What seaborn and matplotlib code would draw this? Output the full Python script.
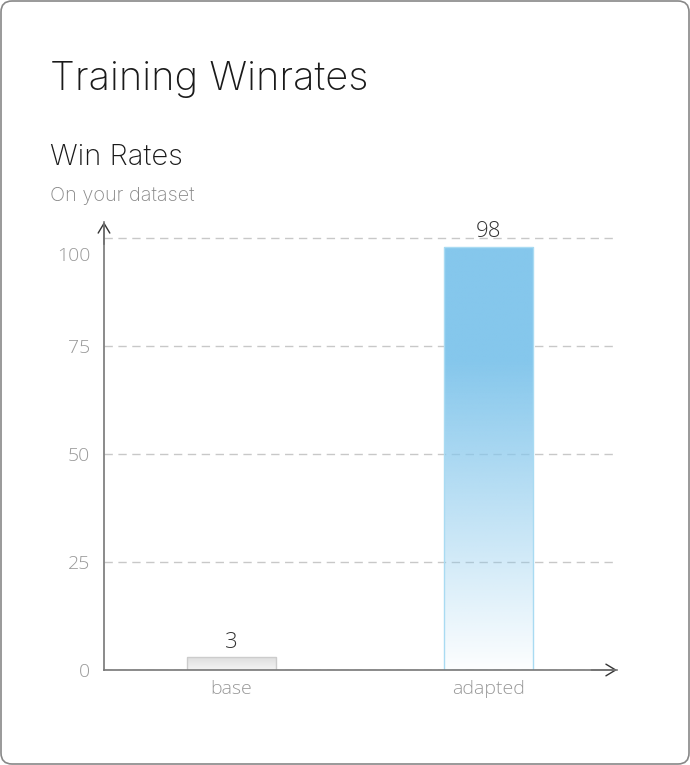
import numpy as np
import matplotlib
matplotlib.use("Agg")
import matplotlib.pyplot as plt
import seaborn as sns
from matplotlib.colors import to_rgb
from matplotlib.patches import FancyBboxPatch
from matplotlib.transforms import ScaledTranslation

# Data
models = ["base", "adapted"]
winrates = [3, 98]
y_ticks = [0, 25, 50, 75, 100]
y_tick_labels = ["0", "25", "50", "75", "100"]

sns.set_style("white")
plt.rcParams["font.family"] = ["Open Sans", "DejaVu Sans"]

fig = plt.figure(figsize=(6.9, 7.65), dpi=100)
ax = fig.add_axes([104 / 690, 1 - 670 / 765, 513 / 690, 448 / 765])

sns.barplot(x=models, y=winrates, hue=models, palette=["#e6e6e6", "#86c8ee"],
            width=0.347, legend=False, ax=ax, zorder=2)

# Gradient fills for the bars
def gradient(color, n=200, solid_from=1.0, a_bottom=0.03, c_bottom=None):
    rgb = np.array(to_rgb(color))
    t = np.linspace(0, 1, n)
    arr = np.zeros((n, 1, 4))
    if c_bottom is None:
        arr[:, 0, :3] = rgb
        alpha = np.clip(a_bottom + (1 - a_bottom) * t / solid_from, 0, 1)
        arr[:, 0, 3] = alpha
    else:
        cb = np.array(to_rgb(c_bottom))
        arr[:, 0, :3] = cb + (rgb - cb) * t[:, None]
        arr[:, 0, 3] = 1
    return arr

styles = {
    "base": dict(img=gradient("#dedede", c_bottom="#f4f4f4"), edge="#cccccc"),
    "adapted": dict(img=gradient("#85c7ec", solid_from=0.73, a_bottom=0.02), edge="#a9dbf2"),
}
bars = [p for p in ax.patches if p.get_height() > 0]
bars.sort(key=lambda p: p.get_x())
for patch, name in zip(bars, models):
    x0, y0 = patch.get_x(), patch.get_y()
    w, h = patch.get_width(), patch.get_height()
    im = ax.imshow(styles[name]["img"], extent=[x0, x0 + w, y0, y0 + h],
                   origin="lower", aspect="auto", zorder=2, interpolation="bilinear")
    im.set_clip_path(patch)
    patch.set_facecolor("none")
    patch.set_edgecolor(styles[name]["edge"])
    patch.set_linewidth(1)
    patch.set_zorder(3)

# Value labels
for patch, v in zip(bars, winrates):
    ax.annotate(str(v), (patch.get_x() + patch.get_width() / 2, patch.get_height()),
                xytext=(0, 3), textcoords="offset points", ha="center", va="bottom",
                fontsize=16, color="#333333", fontweight="light")

ax.set_xlim(-0.496, 1.5)
ax.set_ylim(0, 103.7)
ax.set_yticks(y_ticks)
ax.set_yticklabels(y_tick_labels)
ax.set_xlabel("")
ax.set_ylabel("")
ax.tick_params(axis="both", length=0, labelsize=14, labelcolor="#999999")
ax.tick_params(axis="y", pad=10)
ax.tick_params(axis="x", pad=7)
for lab in ax.get_xticklabels() + ax.get_yticklabels():
    lab.set_fontweight("light")

# shift the top tick label down like the reference
top_label = ax.yaxis.get_major_ticks()[-1].label1
top_label.set_transform(top_label.get_transform() + ScaledTranslation(0, -0.16, fig.dpi_scale_trans))

ax.yaxis.grid(True, linestyle=(0, (6, 4)), color="#c8c8c8", linewidth=1)
ax.set_axisbelow(True)

for side in ["top", "right"]:
    ax.spines[side].set_visible(False)
for side in ["left", "bottom"]:
    ax.spines[side].set_color("#777777")
    ax.spines[side].set_linewidth(1.2)
    ax.spines[side].set_zorder(4)

# Arrow heads at the axis ends
ax.annotate("", xy=(0, 1), xytext=(0, 0.95), xycoords="axes fraction",
            arrowprops=dict(arrowstyle="->,head_length=0.5,head_width=0.3", color="#333333",
                            lw=1, shrinkA=0, shrinkB=0, mutation_scale=14), annotation_clip=False)
ax.annotate("", xy=(1, 0), xytext=(0.95, 0), xycoords="axes fraction",
            arrowprops=dict(arrowstyle="->,head_length=0.5,head_width=0.3", color="#333333",
                            lw=1, shrinkA=0, shrinkB=0, mutation_scale=14), annotation_clip=False)

# Titles
fig.text(50 / 690, 1 - 90 / 765, "Training Winrates", fontsize=28.7, color="#1a1a1a",
         family=["Inter", "DejaVu Sans"], fontweight="light", va="baseline")
fig.text(50 / 690, 1 - 165 / 765, "Win Rates", fontsize=21, color="#1a1a1a",
         family=["Inter", "DejaVu Sans"], fontweight="light", va="baseline")
fig.text(50 / 690, 1 - 201 / 765, "On your dataset", fontsize=14.4, color="#888888",
         family=["Inter", "DejaVu Sans"], fontweight="light", va="baseline")

# Card border
card = FancyBboxPatch((0.01, 0.01), 6.88, 7.63, boxstyle="round,pad=0,rounding_size=0.11",
                      transform=fig.dpi_scale_trans, facecolor="none", edgecolor="#888888",
                      linewidth=1.2)
fig.patches.append(card)

fig.savefig("out.png", dpi=100)
